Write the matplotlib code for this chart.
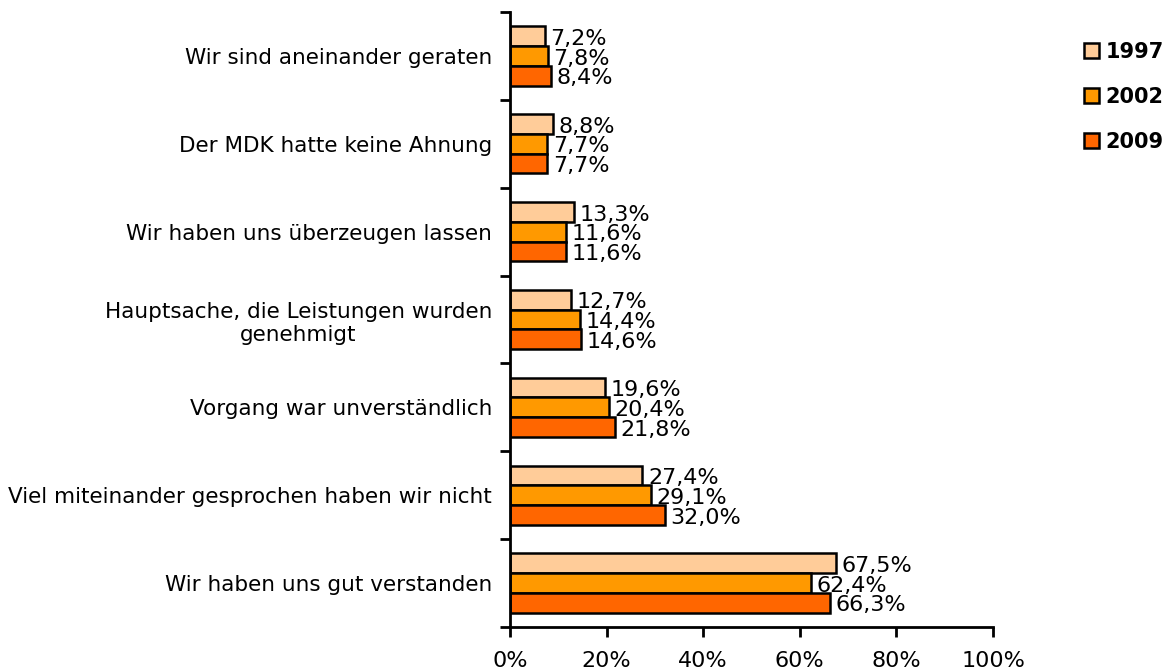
import numpy as np
import matplotlib.pyplot as plt
from matplotlib.patches import Patch

# categories from bottom to top
categories = ["Wir haben uns gut verstanden",
              "Viel miteinander gesprochen haben wir nicht",
              "Vorgang war unverständlich",
              "Hauptsache, die Leistungen wurden\ngenehmigt",
              "Wir haben uns überzeugen lassen",
              "Der MDK hatte keine Ahnung",
              "Wir sind aneinander geraten"]
years = ["1997", "2002", "2009"]
v1997 = [67.5, 27.4, 19.6, 12.7, 13.3, 8.8, 7.2]
v2002 = [62.4, 29.1, 20.4, 14.4, 11.6, 7.7, 7.8]
v2009 = [66.3, 32.0, 21.8, 14.6, 11.6, 7.7, 8.4]
colors = ["#FFCC99", "#FF9900", "#FF6600"]

fig = plt.figure(figsize=(11.75, 6.71), dpi=100)
ax = fig.add_axes([510/1175, 1-627/671, 483/1175, 615/671])

y = np.arange(len(categories))
h = 0.225
for i, (vals, c) in enumerate(zip([v1997, v2002, v2009], colors)):
    pos = y + h * (1 - i)
    ax.barh(pos, vals, height=h, color=c, edgecolor="black", linewidth=1.8)
    for p, v in zip(pos, vals):
        ax.annotate(f"{v:.1f}%".replace(".", ","), (v, p - 0.03),
                    xytext=(4, 0), textcoords="offset points",
                    va="center", ha="left", fontsize=16)

ax.set_xlim(0, 100)
ax.set_ylim(-0.5, 6.5)
ax.set_xticks(np.arange(0, 101, 20))
ax.set_xticklabels([f"{t}%" for t in range(0, 101, 20)], fontsize=16)
ax.set_yticks(np.arange(-0.5, 7, 1))
ax.set_yticklabels([])
ax.set_yticks(y, minor=True)
ax.set_yticklabels(categories, minor=True, fontsize=15.5, ha="right",
                   multialignment="center")
ax.tick_params(axis="y", which="minor", length=0, pad=13)
ax.tick_params(axis="y", which="major", length=7, width=2)
ax.tick_params(axis="x", length=7, width=2, pad=10)
for s in ["top", "right"]:
    ax.spines[s].set_visible(False)
for s in ["left", "bottom"]:
    ax.spines[s].set_linewidth(2)

handles = [Patch(facecolor=c, edgecolor="black", linewidth=1.8) for c in colors]
fig.legend(handles, years, loc="upper left", bbox_to_anchor=(1065/1175, 1-23/671),
           frameon=False, prop={"weight": "bold", "size": 15}, handlelength=0.75,
           handleheight=0.75, handletextpad=0.3, labelspacing=1.2)

fig.savefig("out.png", dpi=100)
